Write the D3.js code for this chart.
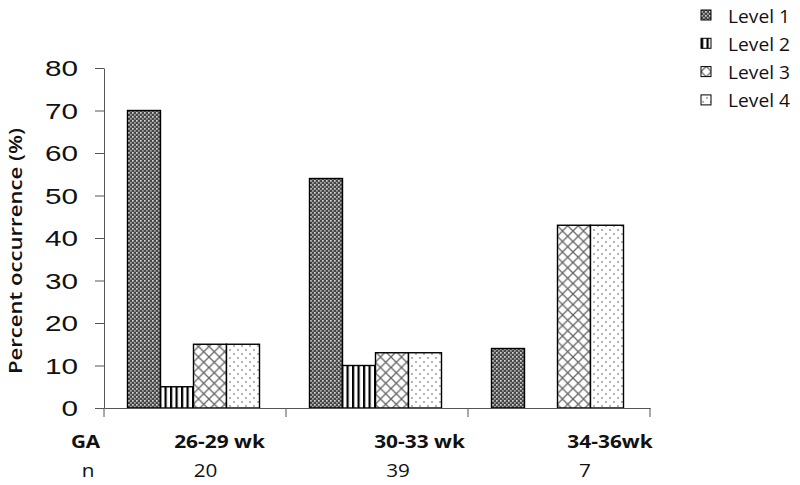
<!DOCTYPE html>
<html><head><meta charset="utf-8">
<script src="https://cdn.jsdelivr.net/npm/d3@7"></script>
<style>body{margin:0;background:#fff}svg{display:block}</style>
</head><body>
<script>
const categories = ["26-29 wk", "30-33 wk", "34-36wk"];
const nValues = [20, 39, 7];
const levels = ["Level 1", "Level 2", "Level 3", "Level 4"];
const level1 = [70, 54, 14];
const level2 = [5, 10, 0];
const level3 = [15, 13, 43];
const level4 = [15, 13, 43];
const yTicks = [0, 10, 20, 30, 40, 50, 60, 70, 80];

const series = [level1, level2, level3, level4];
const data = categories.map((c, i) => ({cat: c, n: nValues[i], vals: levels.map((l, j) => ({level: l, j, v: series[j][i]}))}));

const W = 800, H = 485;
const svg = d3.select("body").append("svg").attr("width", W).attr("height", H);
const defs = svg.append("defs");

// patterns
const p1 = defs.append("pattern").attr("id", "pat0").attr("patternUnits", "userSpaceOnUse").attr("width", 4).attr("height", 4);
p1.append("rect").attr("width", 4).attr("height", 4).attr("fill", "#474747");
p1.append("rect").attr("x", 0).attr("y", 0).attr("width", 1.7).attr("height", 1.7).attr("fill", "#d4d4d4");
p1.append("rect").attr("x", 2).attr("y", 2).attr("width", 1.7).attr("height", 1.7).attr("fill", "#a8a8a8");
const p2 = defs.append("pattern").attr("id", "pat1").attr("patternUnits", "userSpaceOnUse").attr("width", 5.5).attr("height", 10);
p2.append("rect").attr("width", 5.5).attr("height", 10).attr("fill", "#fff");
p2.append("rect").attr("width", 2.2).attr("height", 10).attr("fill", "#000");
const p3 = defs.append("pattern").attr("id", "pat2").attr("patternUnits", "userSpaceOnUse").attr("width", 10.5).attr("height", 10.5);
p3.append("rect").attr("width", 10.5).attr("height", 10.5).attr("fill", "#fff");
p3.append("path").attr("d", "M0,0L10.5,10.5M10.5,0L0,10.5M-1,9.5L1,11.5M9.5,-1L11.5,1").attr("stroke", "#666").attr("stroke-width", 1.3);
const p4 = defs.append("pattern").attr("id", "pat3").attr("patternUnits", "userSpaceOnUse").attr("width", 8).attr("height", 8);
p4.append("rect").attr("width", 8).attr("height", 8).attr("fill", "#fff");
p4.append("circle").attr("cx", 2).attr("cy", 2).attr("r", 0.8).attr("fill", "#555");
p4.append("circle").attr("cx", 6).attr("cy", 6).attr("r", 0.8).attr("fill", "#555");

const x0 = 104, x1 = 650, yTop = 68, yBot = 408;
const x = d3.scaleBand().domain(categories).range([x0, x1]).paddingInner(0).paddingOuter(0);
const xi = d3.scaleBand().domain(levels).range([23.5, 155.5]).padding(0);
const y = d3.scaleLinear().domain([0, 80]).range([yBot, yTop]);

// bars
const g = svg.append("g");
const groups = g.selectAll("g.grp").data(data).join("g").attr("class", "grp")
  .attr("transform", d => `translate(${x(d.cat)},0)`);
groups.selectAll("rect").data(d => d.vals.filter(v => v.v > 0)).join("rect")
  .attr("x", d => xi(d.level)).attr("width", xi.bandwidth())
  .attr("y", d => y(d.v)).attr("height", d => y(0) - y(d.v))
  .attr("fill", d => `url(#pat${d.j})`).attr("stroke", "#000").attr("stroke-width", 1.4);

// y axis
const yAxis = svg.append("g").attr("transform", `translate(${x0},0)`)
  .call(d3.axisLeft(y).tickValues(yTicks).tickSize(9).tickSizeOuter(0).tickFormat(d3.format("d")));
yAxis.select(".domain").attr("stroke", "#555");
yAxis.selectAll(".tick line").attr("stroke", "#555");
yAxis.selectAll(".tick text").attr("x", null).attr("dy", null)
  .attr("font-family", "Liberation Sans, Arial, sans-serif").attr("font-size", 22).attr("fill", "#111")
  .attr("text-anchor", "end").attr("dominant-baseline", "central")
  .attr("transform", "translate(-26,0) scale(1.35,1)");

// x axis
const xAxis = svg.append("g").attr("transform", `translate(0,${yBot})`)
  .call(d3.axisBottom(x).tickValues([]).tickSizeOuter(0));
xAxis.select(".domain").attr("stroke", "#555");
const bounds = [x0, ...categories.map(c => x(c) + x.bandwidth())];
xAxis.selectAll("line.b").data(bounds).join("line").attr("class", "b")
  .attr("x1", d => d).attr("x2", d => d).attr("y1", 0).attr("y2", 9).attr("stroke", "#555");

// y title
svg.append("text").attr("transform", "translate(22,251) rotate(-90)")
  .attr("text-anchor", "middle").attr("font-family", "Open Sans, sans-serif").attr("font-weight", 600)
  .attr("font-size", 18).attr("fill", "#111").attr("textLength", 246).attr("lengthAdjust", "spacingAndGlyphs")
  .text("Percent occurrence (%)");

// bottom labels
const catShift = [24.5, 42.5, 51];
const nShift = [10.5, 21, 26];
const label = (cx, cy, txt, bold, sx) => svg.append("text")
  .attr("transform", `translate(${cx},${cy}) scale(${sx},1)`).attr("text-anchor", "middle")
  .attr("font-family", "Open Sans, sans-serif").attr("font-weight", bold ? 700 : 400)
  .attr("font-size", 18).attr("fill", "#111").text(txt);
label(85.5, 448, "GA", true, 1.15);
label(88, 477, "n", false, 1.15);
data.forEach((d, i) => {
  label(x(d.cat) + x.bandwidth() / 2 + catShift[i], 448, d.cat, true, 1.16);
  label(x(d.cat) + x.bandwidth() / 2 + nShift[i], 477, d.n, false, 1.15);
});

// legend
const leg = svg.append("g").attr("transform", "translate(701,0)");
const rows = leg.selectAll("g").data(levels).join("g").attr("transform", (d, i) => `translate(0,${15 + i * 28.3})`);
rows.append("rect").attr("x", 0).attr("y", -5).attr("width", 10).attr("height", 10)
  .attr("fill", (d, i) => `url(#pat${i})`).attr("stroke", "#000").attr("stroke-width", 1);
rows.append("text").attr("x", 27).attr("y", 0).attr("dominant-baseline", "central")
  .attr("font-family", "Open Sans, sans-serif").attr("font-size", 18.5).attr("fill", "#111")
  .attr("textLength", 62).attr("lengthAdjust", "spacingAndGlyphs").text(d => d);
</script>
</body></html>
